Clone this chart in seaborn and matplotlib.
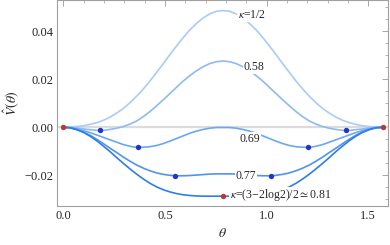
import numpy as np
import pandas as pd
import matplotlib
matplotlib.use("Agg")
import matplotlib.pyplot as plt
from matplotlib.ticker import MultipleLocator
import seaborn as sns

# values (theta step pi/96)
theta = [0.0000, 0.0327, 0.0654, 0.0982, 0.1309, 0.1636, 0.1963, 0.2291, 0.2618, 0.2945,
         0.3272, 0.3600, 0.3927, 0.4254, 0.4581, 0.4909, 0.5236, 0.5563, 0.5890, 0.6218,
         0.6545, 0.6872, 0.7199, 0.7527, 0.7854, 0.8181, 0.8508, 0.8836, 0.9163, 0.9490,
         0.9817, 1.0145, 1.0472, 1.0799, 1.1126, 1.1454, 1.1781, 1.2108, 1.2435, 1.2763,
         1.3090, 1.3417, 1.3744, 1.4072, 1.4399, 1.4726, 1.5053, 1.5381, 1.5708]
v_050 = [0, 0.0001, 0.0003, 0.0006, 0.0012, 0.0019, 0.0029, 0.0042, 0.0059, 0.0078,
         0.0102, 0.0129, 0.0159, 0.0192, 0.0228, 0.0264, 0.0302, 0.0338, 0.0373, 0.0405,
         0.0432, 0.0455, 0.0472, 0.0483, 0.0486, 0.0483, 0.0472, 0.0455, 0.0432, 0.0405,
         0.0373, 0.0338, 0.0302, 0.0264, 0.0228, 0.0192, 0.0159, 0.0129, 0.0102, 0.0078,
         0.0059, 0.0042, 0.0029, 0.0019, 0.0012, 0.0006, 0.0003, 0.0001, 0]
v_058 = [0, -0.0001, -0.0003, -0.0007, -0.0010, -0.0013, -0.0013, -0.0009, -0.0004, 0.0003,
         0.0013, 0.0026, 0.0044, 0.0065, 0.0089, 0.0114, 0.0140, 0.0166, 0.0192, 0.0215,
         0.0235, 0.0252, 0.0265, 0.0273, 0.0276, 0.0273, 0.0265, 0.0252, 0.0235, 0.0215,
         0.0192, 0.0166, 0.0140, 0.0114, 0.0089, 0.0065, 0.0044, 0.0026, 0.0013, 0.0003,
         -0.0004, -0.0009, -0.0013, -0.0013, -0.0010, -0.0007, -0.0003, -0.0001, 0]
v_069 = [0, -0.0002, -0.0007, -0.0014, -0.0022, -0.0032, -0.0042, -0.0052, -0.0062, -0.0072,
         -0.0079, -0.0084, -0.0083, -0.0081, -0.0076, -0.0068, -0.0058, -0.0047, -0.0036, -0.0025,
         -0.0016, -0.0009, -0.0004, -0.0001, -0.0001, -0.0001, -0.0004, -0.0009, -0.0016, -0.0025,
         -0.0036, -0.0047, -0.0058, -0.0068, -0.0076, -0.0081, -0.0083, -0.0084, -0.0079, -0.0072,
         -0.0062, -0.0052, -0.0042, -0.0032, -0.0022, -0.0014, -0.0007, -0.0002, 0]
v_077 = [0, -0.0002, -0.0009, -0.0020, -0.0033, -0.0050, -0.0068, -0.0087, -0.0105, -0.0124,
         -0.0141, -0.0157, -0.0170, -0.0181, -0.0190, -0.0196, -0.0200, -0.0202, -0.0202, -0.0201,
         -0.0199, -0.0197, -0.0195, -0.0194, -0.0194, -0.0194, -0.0195, -0.0197, -0.0199, -0.0201,
         -0.0202, -0.0202, -0.0200, -0.0196, -0.0190, -0.0181, -0.0170, -0.0157, -0.0141, -0.0124,
         -0.0105, -0.0087, -0.0068, -0.0050, -0.0033, -0.0020, -0.0009, -0.0002, 0]
v_081 = [0, -0.0002, -0.0010, -0.0021, -0.0037, -0.0056, -0.0078, -0.0101, -0.0126, -0.0150,
         -0.0173, -0.0195, -0.0215, -0.0233, -0.0248, -0.0260, -0.0269, -0.0276, -0.0281, -0.0284,
         -0.0286, -0.0287, -0.0287, -0.0287, -0.0287, -0.0287, -0.0287, -0.0287, -0.0286, -0.0284,
         -0.0281, -0.0276, -0.0269, -0.0260, -0.0248, -0.0233, -0.0215, -0.0195, -0.0173, -0.0150,
         -0.0126, -0.0101, -0.0078, -0.0056, -0.0037, -0.0021, -0.0010, -0.0002, 0]
kappas = ["1/2", "0.58", "0.69", "0.77", "0.81"]
curve_colors = ["#a9ccf7", "#8cbaf3", "#6ca7ef", "#4f94ec", "#2f7ee6"]

blue_x = [0.180, 1.391, 0.365, 1.206, 0.548, 1.023]
blue_y = [-0.0013, -0.0013, -0.0084, -0.0084, -0.0202, -0.0202]
red_x = [0.0, 1.5708, 0.7854]
red_y = [0.0, 0.0, -0.0287]

labels = [r"$\kappa$=1/2", "0.58", "0.69", "0.77", r"$\kappa$=(3−2log2)/2$\simeq$0.81"]
label_x = [0.857, 0.888, 0.867, 0.847, 0.818]
label_y = [0.0466, 0.0250, -0.0048, -0.0201, -0.0284]

rows = []
for k, vals in zip(kappas, [v_050, v_058, v_069, v_077, v_081]):
    assert len(vals) == len(theta)
    for t, v in zip(theta, vals):
        rows.append({"theta": t, "V": v, "kappa": k})
df = pd.DataFrame(rows)

sns.set_style("white")
plt.rcParams["font.family"] = ["Liberation Serif", "DejaVu Serif"]
plt.rcParams["mathtext.fontset"] = "stix"

fig = plt.figure(figsize=(3.9, 2.45), dpi=100)
ax = fig.add_axes([0.147, 0.161, 0.847, 0.837])

ax.axhline(0, color="#dcdcdc", lw=1.6, zorder=1)
sns.lineplot(data=df, x="theta", y="V", hue="kappa", hue_order=kappas,
             palette=curve_colors, linewidth=1.2, legend=False, sort=False,
             estimator=None, ax=ax, zorder=2)
sns.scatterplot(x=blue_x, y=blue_y, color="#2433c8", s=15, linewidth=0, ax=ax, zorder=4)
sns.scatterplot(x=red_x, y=red_y, color="#b83a32", s=15, linewidth=0, ax=ax, zorder=4)

for txt, x, y in zip(labels, label_x, label_y):
    ax.text(x, y, txt, fontsize=8.5, va="center", ha="left", zorder=3,
            bbox=dict(facecolor="white", edgecolor="none", pad=0.3))

ax.set_xlim(-0.030, 1.596)
ax.set_ylim(-0.0326, 0.0528)
ax.xaxis.set_major_locator(MultipleLocator(0.5))
ax.xaxis.set_minor_locator(MultipleLocator(0.1))
ax.yaxis.set_major_locator(MultipleLocator(0.02))
ax.yaxis.set_minor_locator(MultipleLocator(0.005))
ax.xaxis.set_major_formatter(plt.FuncFormatter(lambda v, p: f"{v:.1f}"))
ax.yaxis.set_major_formatter(plt.FuncFormatter(lambda v, p: f"{v:.2f}".replace("-", "−")))
ax.tick_params(which="both", direction="in", top=True, right=True, color="#999999",
               labelsize=9, pad=3)
ax.tick_params(which="major", length=4, width=0.6)
ax.tick_params(which="minor", length=2.2, width=0.5)
for s in ax.spines.values():
    s.set_color("#a0a0a0")
    s.set_linewidth(0.8)

ax.set_xlabel(r"$\theta$", fontsize=10, labelpad=4)
ax.set_ylabel(r"$\hat{V}(\theta)$", fontsize=10, labelpad=2)

fig.savefig("out.png", dpi=100)
